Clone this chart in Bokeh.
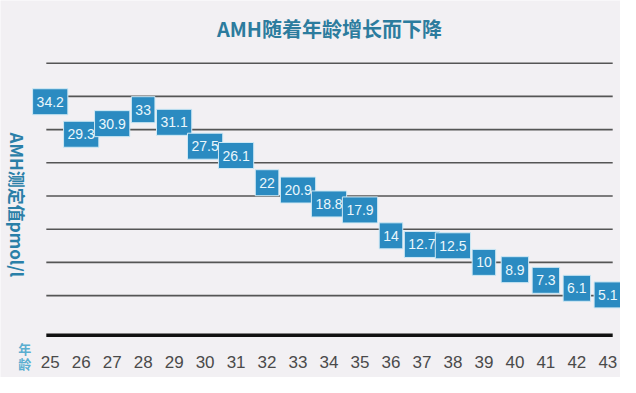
import math
from bokeh.plotting import figure
from bokeh.models import ColumnDataSource, Label
from bokeh.core.properties import value
from bokeh.embed import file_html
from bokeh.resources import INLINE

ages = [25, 26, 27, 28, 29, 30, 31, 32, 33, 34, 35, 36, 37, 38, 39, 40, 41, 42, 43]
age_labels = ["25", "26", "27", "28", "29", "30", "31", "32", "33", "34", "35", "36", "37",
              "38", "39", "40", "41", "42", "43"]
amh = [34.2, 29.3, 30.9, 33, 31.1, 27.5, 26.1, 22, 20.9, 18.8, 17.9, 14, 12.7, 12.5, 10, 8.9, 7.3, 6.1, 5.1]
amh_labels = ["34.2", "29.3", "30.9", "33", "31.1", "27.5", "26.1", "22", "20.9", "18.8", "17.9",
              "14", "12.7", "12.5", "10", "8.9", "7.3", "6.1", "5.1"]
grid_values = [5, 10, 15, 20, 25, 30, 35, 40]

title_text = "AMH随着年龄增长而下降"
ylabel_text = "AMH测定值pmol/l"
xlabel_chars = ["年", "龄"]

BG = "#f2f0f3"

# layout constants (data coordinates of the drawing area)
X0, X1 = 23.395, 43.409
Y0, Y1 = -7.341, 49.45
LINE_X0, LINE_X1 = 24.874, 43.157
AXIS_Y = -0.98
TICK_Y = -5.03

p = figure(width=620, height=377, output_backend="svg", toolbar_location=None,
           x_range=(X0, X1), y_range=(Y0, Y1))
p.min_border_left = 0
p.min_border_right = 0
p.min_border_top = 0
p.min_border_bottom = 0
p.background_fill_color = BG
p.border_fill_color = BG
p.outline_line_color = None
p.axis.visible = False
p.grid.visible = False

# horizontal grid lines
n = len(grid_values)
p.segment(x0=[LINE_X0] * n, x1=[LINE_X1] * n, y0=grid_values, y1=grid_values,
          line_color="#555555", line_width=1.6)
# thick baseline
p.segment(x0=[LINE_X0], x1=[LINE_X1], y0=[AXIS_Y], y1=[AXIS_Y],
          line_color="#111111", line_width=3.5)

# x tick labels
tsrc = ColumnDataSource(dict(x=ages, y=[TICK_Y] * len(ages), t=age_labels))
p.text(x="x", y="y", text="t", source=tsrc, text_align="center", text_baseline="middle",
       text_font=value("Liberation Sans"), text_font_size="17px", text_color="#4a4a4a")

# value boxes
src = ColumnDataSource(dict(x=ages, y=amh, t=amh_labels))
p.text(x="x", y="y", text="t", source=src,
       text_align="center", text_baseline="middle",
       text_font=value("Liberation Sans"), text_font_size="14px",
       text_color="#eaf7fc",
       background_fill_color="#2b8bc1",
       border_line_color="#cfe9f5", border_line_width=1,
       padding=dict(left=4, right=4, top=8, bottom=8))

p.add_layout(Label(x=34.015, y=45.26, text=title_text, text_align="center", text_baseline="middle",
                   text_font="Noto Sans CJK SC", text_font_size="20px", text_font_style="bold",
                   text_color="#2c7c9e"))

p.add_layout(Label(x=23.93, y=18.67, text=ylabel_text, angle=-math.pi / 2,
                   text_align="center", text_baseline="middle",
                   text_font="Noto Sans CJK SC", text_font_size="17px", text_font_style="bold",
                   text_color="#2a7fa8"))

for ch, yy in zip(xlabel_chars, [-3.0, -5.17]):
    p.add_layout(Label(x=24.18, y=yy, text=ch, text_align="center", text_baseline="middle",
                       text_font="Noto Sans CJK SC", text_font_size="13px", text_font_style="bold",
                       text_color="#5aaed0"))

open("out.html", "w").write(file_html(p, INLINE))
